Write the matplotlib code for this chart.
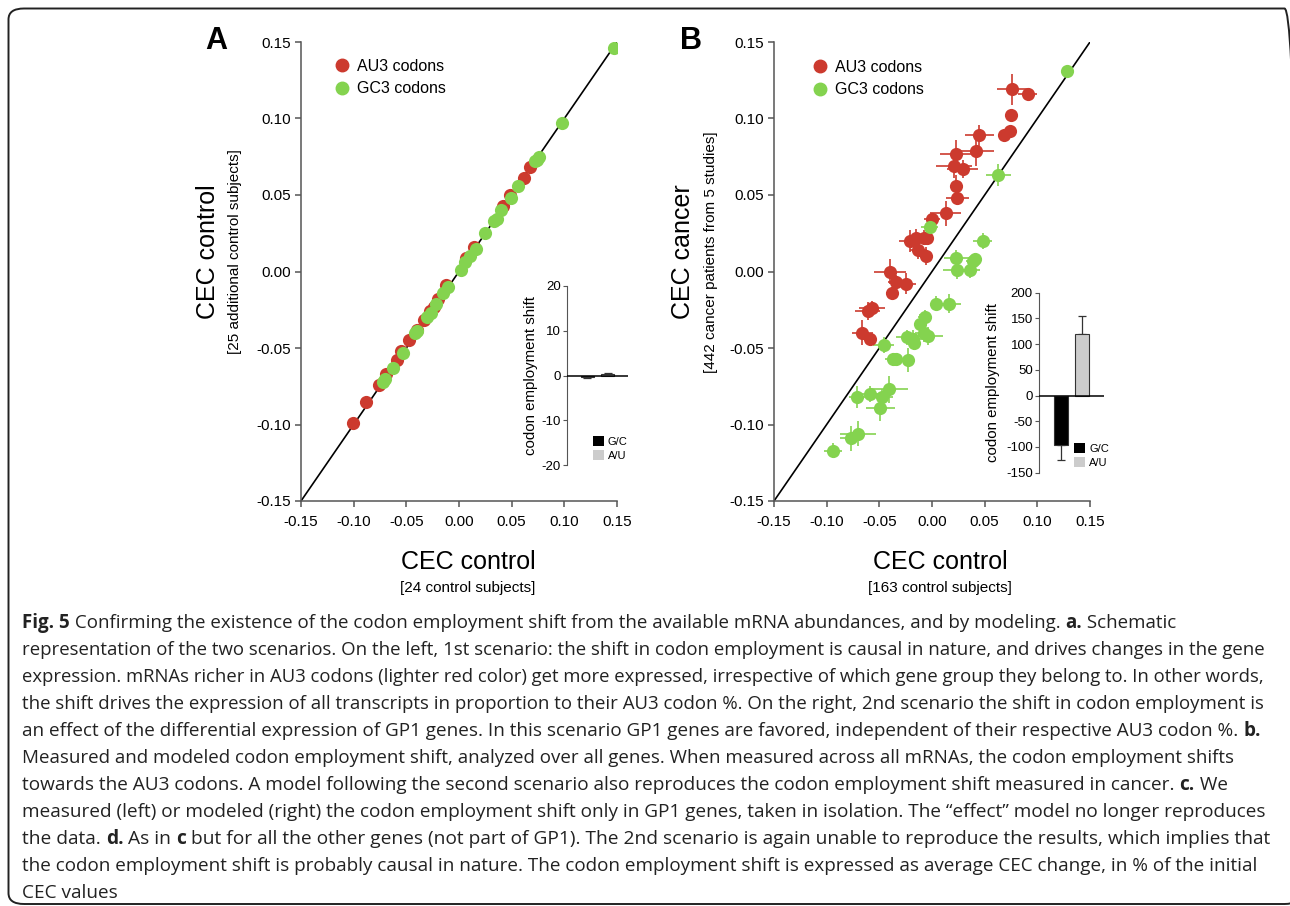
import numpy as np
import matplotlib
matplotlib.use('Agg')
import matplotlib.pyplot as plt
from matplotlib.lines import Line2D
from matplotlib.patches import Patch, FancyBboxPatch

plt.rcParams['font.family'] = ['Liberation Sans', 'DejaVu Sans']
plt.rcParams['axes.unicode_minus'] = False

W, H = 1290, 906
RED = '#cc3a2e'
GREEN = '#84d34f'
SPINE = '#555555'

# --- panel A data (CEC control 24 vs 25 subjects) ---
a_au3_x = [0.067, 0.062, 0.048, 0.042, 0.014, 0.007, -0.012, -0.020, -0.024, -0.028, -0.033,
           -0.040, -0.047, -0.055, -0.059, -0.069, -0.076, -0.088, -0.101]
a_au3_y = [0.068, 0.061, 0.050, 0.043, 0.016, 0.009, -0.009, -0.018, -0.023, -0.026, -0.032,
           -0.038, -0.045, -0.052, -0.058, -0.067, -0.074, -0.085, -0.099]
a_gc3_x = [0.147, 0.098, 0.076, 0.074, 0.072, 0.056, 0.049, 0.040, 0.036, 0.033, 0.025, 0.016,
           0.010, 0.006, 0.002, -0.010, -0.015, -0.022, -0.027, -0.030, -0.042, -0.040, -0.053,
           -0.063, -0.072, -0.070]
a_gc3_y = [0.146, 0.097, 0.075, 0.073, 0.072, 0.056, 0.048, 0.040, 0.034, 0.033, 0.025, 0.015,
           0.010, 0.006, 0.001, -0.010, -0.014, -0.021, -0.027, -0.030, -0.040, -0.039, -0.053,
           -0.063, -0.072, -0.070]

# --- panel B data (CEC control 163 vs cancer 442) ---
b_au3_x = [0.076, 0.091, 0.075, 0.068, 0.074, 0.045, 0.042, 0.023, 0.021, 0.029, 0.023, 0.024,
           0.013, 0.000, -0.021, -0.015, -0.008, -0.005, -0.013, -0.006, -0.040, -0.034, -0.025,
           -0.038, -0.061, -0.057, -0.066, -0.059]
b_au3_y = [0.119, 0.116, 0.102, 0.089, 0.092, 0.089, 0.079, 0.077, 0.069, 0.067, 0.056, 0.048,
           0.038, 0.034, 0.020, 0.022, 0.022, 0.022, 0.014, 0.010, 0.000, -0.007, -0.008,
           -0.014, -0.026, -0.024, -0.040, -0.044]
b_au3_xerr = [0.014, 0.009, 0.004, 0.003, 0.003, 0.014, 0.017, 0.015, 0.017, 0.015, 0.006, 0.011,
              0.015, 0.008, 0.010, 0.010, 0.008, 0.006, 0.008, 0.006, 0.015, 0.008, 0.010,
              0.006, 0.012, 0.012, 0.010, 0.005]
b_au3_yerr = [0.010, 0.004, 0.003, 0.003, 0.003, 0.007, 0.010, 0.009, 0.008, 0.006, 0.007, 0.004,
              0.008, 0.004, 0.007, 0.006, 0.005, 0.004, 0.006, 0.006, 0.008, 0.005, 0.007,
              0.004, 0.006, 0.005, 0.008, 0.004]
b_gc3_x = [0.128, 0.063, -0.002, 0.048, 0.023, 0.041, 0.039, 0.024, 0.036, 0.004, 0.016, -0.007,
           -0.011, -0.024, -0.018, -0.017, -0.008, -0.004, -0.046, -0.037, -0.034, -0.023,
           -0.041, -0.059, -0.071, -0.047, -0.049, -0.070, -0.077, -0.094]
b_gc3_y = [0.131, 0.063, 0.029, 0.020, 0.009, 0.008, 0.007, 0.001, 0.001, -0.021, -0.021, -0.030,
           -0.034, -0.043, -0.044, -0.047, -0.040, -0.042, -0.048, -0.057, -0.057, -0.058,
           -0.077, -0.080, -0.082, -0.082, -0.089, -0.106, -0.109, -0.117]
b_gc3_xerr = [0.003, 0.012, 0.008, 0.009, 0.012, 0.006, 0.007, 0.014, 0.010, 0.006, 0.012, 0.006,
              0.006, 0.010, 0.010, 0.006, 0.008, 0.014, 0.010, 0.008, 0.008, 0.006,
              0.018, 0.008, 0.008, 0.010, 0.014, 0.017, 0.010, 0.009]
b_gc3_yerr = [0.003, 0.007, 0.004, 0.005, 0.005, 0.004, 0.004, 0.006, 0.005, 0.005, 0.006, 0.005,
              0.006, 0.005, 0.006, 0.004, 0.006, 0.006, 0.005, 0.004, 0.004, 0.008,
              0.009, 0.005, 0.007, 0.005, 0.009, 0.008, 0.008, 0.005]

# --- inset bars: codon employment shift ---
inset_labels = ['G/C', 'A/U']
inset_colors = ['#000000', '#cccccc']
a_shift = [-0.3, 0.3]
a_shift_err = [0.3, 0.3]
b_shift = [-97, 120]
b_shift_err = [28, 35]

ticks = [-0.15, -0.10, -0.05, 0.00, 0.05, 0.10, 0.15]

fig = plt.figure(figsize=(W / 100, H / 100), dpi=100)


def px(x0, y_top, w, h):
    return [x0 / W, 1 - (y_top + h) / H, w / W, h / H]


def style_main(ax):
    ax.set_xlim(-0.15, 0.15)
    ax.set_ylim(-0.15, 0.15)
    ax.set_xticks(ticks)
    ax.set_yticks(ticks)
    ax.set_xticklabels(['%.2f' % t for t in ticks])
    ax.set_yticklabels(['%.2f' % t for t in ticks])
    for s in ['top', 'right']:
        ax.spines[s].set_visible(False)
    for s in ['left', 'bottom']:
        ax.spines[s].set_color(SPINE)
        ax.spines[s].set_linewidth(1.1)
    ax.tick_params(direction='out', length=4, width=1.1, color=SPINE, labelsize=11, pad=3)
    ax.tick_params(axis='x', pad=6)
    ax.plot([-0.15, 0.15], [-0.15, 0.15], color='black', lw=1.2, zorder=1)
    ax.patch.set_alpha(0)


def main_legend(ax, left, top):
    handles = [Line2D([], [], ls='none', marker='o', ms=9, color=RED),
               Line2D([], [], ls='none', marker='o', ms=9, color=GREEN)]
    ax.legend(handles, ['AU3 codons', 'GC3 codons'], loc='upper left',
              bbox_to_anchor=(left / W, 1 - top / H), bbox_transform=fig.transFigure,
              frameon=False, fontsize=11.5, handlelength=1.0, handletextpad=0.45,
              labelspacing=0.45, borderpad=0, borderaxespad=0)


# Panel A
axA = fig.add_axes(px(301, 42, 316, 459))
style_main(axA)
axA.scatter(a_au3_x, a_au3_y, s=90, color=RED, zorder=3, linewidths=0)
axA.scatter(a_gc3_x, a_gc3_y, s=90, color=GREEN, zorder=4, linewidths=0)
main_legend(axA, 334, 59)

# Panel B
axB = fig.add_axes(px(774, 42, 316, 459))
style_main(axB)
axB.errorbar(b_au3_x, b_au3_y, xerr=b_au3_xerr, yerr=b_au3_yerr, fmt='none',
             ecolor=RED, elinewidth=1.4, alpha=0.85, zorder=2)
axB.errorbar(b_gc3_x, b_gc3_y, xerr=b_gc3_xerr, yerr=b_gc3_yerr, fmt='none',
             ecolor=GREEN, elinewidth=1.4, alpha=0.85, zorder=2)
axB.scatter(b_au3_x, b_au3_y, s=90, color=RED, zorder=3, linewidths=0)
axB.scatter(b_gc3_x, b_gc3_y, s=90, color=GREEN, zorder=4, linewidths=0)
main_legend(axB, 812, 60)


def inset(rect, vals, errs, ylim, yticks, leg_left, leg_top, lab_x):
    ax = fig.add_axes(rect)
    ax.set_xlim(0, 3)
    ax.set_ylim(*ylim)
    ax.set_yticks(yticks)
    ax.set_xticks([])
    for s in ['top', 'right', 'bottom']:
        ax.spines[s].set_visible(False)
    ax.spines['left'].set_color(SPINE)
    ax.tick_params(axis='y', direction='out', length=3, color=SPINE, labelsize=9.5, pad=1.5)
    ax.bar([1, 2], vals, width=0.65, color=inset_colors, edgecolor='#333333', linewidth=0.8, zorder=2)
    for i, (v, e) in enumerate(zip(vals, errs)):
        lo = [e] if v < 0 else [0]
        hi = [e] if v >= 0 else [0]
        ax.errorbar([i + 1], [v], yerr=[lo, hi], fmt='none', ecolor='#333333',
                    elinewidth=0.9, capsize=3, capthick=0.9, zorder=1)
    ax.axhline(0, color='black', lw=1.1, zorder=3)
    ax.patch.set_alpha(0)
    handles = [Patch(facecolor=c, edgecolor='none') for c in inset_colors]
    ax.legend(handles, inset_labels, loc='upper left',
              bbox_to_anchor=(leg_left / W, 1 - leg_top / H), bbox_transform=fig.transFigure,
              frameon=False, fontsize=8, handlelength=0.95, handleheight=0.95,
              handletextpad=0.4, labelspacing=0.3, borderpad=0, borderaxespad=0)
    y_mid = 1 - (rect[1] + rect[3] / 2)
    fig.text(lab_x / W, 1 - y_mid, 'codon employment shift', rotation=90,
             ha='center', va='center', fontsize=10.8)
    return ax


inset(px(567, 286, 61, 179), a_shift, a_shift_err, (-20, 20), [-20, -10, 0, 10, 20], 593, 436, 531)
inset(px(1039, 292.7, 65, 180), b_shift, b_shift_err, (-150, 200),
      [-150, -100, -50, 0, 50, 100, 150, 200], 1074, 443, 993)

# axis titles
fig.text(205 / W, 1 - 41 / H, 'A', fontsize=22, weight='bold', ha='left', va='center')
fig.text(680 / W, 1 - 41 / H, 'B', fontsize=22, weight='bold', ha='left', va='center')
fig.text(208 / W, 1 - 252 / H, 'CEC control', rotation=90, fontsize=18, ha='center', va='center')
fig.text(235 / W, 1 - 252 / H, '[25 additional control subjects]', rotation=90, fontsize=11,
         ha='center', va='center')
fig.text(683 / W, 1 - 252 / H, 'CEC cancer', rotation=90, fontsize=18, ha='center', va='center')
fig.text(711 / W, 1 - 252 / H, '[442 cancer patients from 5 studies]', rotation=90, fontsize=11,
         ha='center', va='center')
fig.text(468 / W, 1 - 562 / H, 'CEC control', fontsize=18, ha='center', va='center')
fig.text(468 / W, 1 - 588 / H, '[24 control subjects]', fontsize=11, ha='center', va='center')
fig.text(940 / W, 1 - 562 / H, 'CEC control', fontsize=18, ha='center', va='center')
fig.text(940 / W, 1 - 588 / H, '[163 control subjects]', fontsize=11, ha='center', va='center')

# --- caption ---
caption = [
    [('Fig. 5', True), (' Confirming the existence of the codon employment shift from the available mRNA abundances, and by modeling. ', False), ('a.', True), (' Schematic', False)],
    [('representation of the two scenarios. On the left, 1st scenario: the shift in codon employment is causal in nature, and drives changes in the gene', False)],
    [('expression. mRNAs richer in AU3 codons (lighter red color) get more expressed, irrespective of which gene group they belong to. In other words,', False)],
    [('the shift drives the expression of all transcripts in proportion to their AU3 codon %. On the right, 2nd scenario the shift in codon employment is', False)],
    [('an effect of the differential expression of GP1 genes. In this scenario GP1 genes are favored, independent of their respective AU3 codon %. ', False), ('b.', True)],
    [('Measured and modeled codon employment shift, analyzed over all genes. When measured across all mRNAs, the codon employment shifts', False)],
    [('towards the AU3 codons. A model following the second scenario also reproduces the codon employment shift measured in cancer. ', False), ('c.', True), (' We', False)],
    [('measured (left) or modeled (right) the codon employment shift only in GP1 genes, taken in isolation. The \u201ceffect\u201d model no longer reproduces', False)],
    [('the data. ', False), ('d.', True), (' As in ', False), ('c', True), (' but for all the other genes (not part of GP1). The 2nd scenario is again unable to reproduce the results, which implies that', False)],
    [('the codon employment shift is probably causal in nature. The codon employment shift is expressed as average CEC change, in % of the initial', False)],
    [('CEC values', False)],
]
# approximate right edge (px) of each caption line in the reference
caption_ends = [1180, 1262, 1267, 1262, 1262, 1233, 1226, 1267, 1269, 1256, 118]

CAP_FS = 13.5
CAP_FAMILY = ['Open Sans', 'DejaVu Sans']
renderer = fig.canvas.get_renderer()


def seg_width(s, bold, fs):
    kw = dict(fontsize=fs, family=CAP_FAMILY, weight='bold' if bold else 'normal')
    t1 = fig.text(0, 0, s + 'x', **kw)
    t2 = fig.text(0, 0, 'x', **kw)
    w = t1.get_window_extent(renderer).width - t2.get_window_extent(renderer).width
    t1.remove()
    t2.remove()
    return w


for i, parts in enumerate(caption):
    y = 623 + i * 27
    natural = sum(seg_width(s, b, CAP_FS) for s, b in parts)
    fs = CAP_FS * (caption_ends[i] - 22) / natural
    fs = min(max(fs, CAP_FS * 0.95), CAP_FS * 1.04)
    x = 22.0
    for s, bold in parts:
        fig.text(x / W, 1 - y / H, s, fontsize=fs, family=CAP_FAMILY,
                 weight='bold' if bold else 'normal', ha='left', va='center', color='#222222')
        x += seg_width(s, bold, fs)

# rounded frame around the whole figure
frame = FancyBboxPatch((8.5 / W, 1 - 904 / H), (1300 - 8.5) / W, (904 - 8.5) / H,
                       boxstyle='round,pad=0,rounding_size=0.012', transform=fig.transFigure,
                       fill=False, edgecolor='#222222', linewidth=1.4, clip_on=False)
fig.patches.append(frame)

fig.savefig('out.png', dpi=100)
